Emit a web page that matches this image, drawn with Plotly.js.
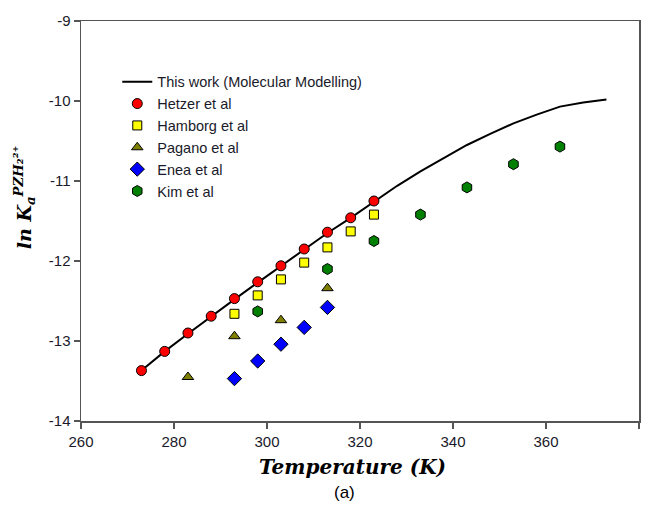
<!DOCTYPE html>
<html>
<head>
<meta charset="utf-8">
<script src="https://cdn.plot.ly/plotly-3.0.1.min.js"></script>
<style>html,body{margin:0;padding:0;background:#fff;}#chart{width:651px;height:510px;}</style>
</head>
<body>
<div id="chart"></div>
<script>
// Data
const modelT = [273, 278, 283, 288, 293, 298, 303, 308, 313, 318, 323, 328, 333, 338, 343, 348, 353, 358, 363, 368, 373];
const modelLnKa = [-13.37, -13.13, -12.91, -12.69, -12.48, -12.27, -12.06, -11.86, -11.65, -11.46, -11.26, -11.06, -10.88, -10.71, -10.55, -10.41, -10.28, -10.17, -10.07, -10.02, -9.98];

const hetzerT = [273, 278, 283, 288, 293, 298, 303, 308, 313, 318, 323];
const hetzerLnKa = [-13.37, -13.13, -12.90, -12.69, -12.47, -12.26, -12.06, -11.85, -11.64, -11.46, -11.25];

const hamborgT = [293, 298, 303, 308, 313, 318, 323];
const hamborgLnKa = [-12.66, -12.43, -12.23, -12.02, -11.83, -11.63, -11.42];

const paganoT = [283, 293, 303, 313];
const paganoLnKa = [-13.45, -12.94, -12.74, -12.34];

const eneaT = [293, 298, 303, 308, 313];
const eneaLnKa = [-13.47, -13.25, -13.04, -12.83, -12.58];

const kimT = [298, 313, 323, 333, 343, 353, 363];
const kimLnKa = [-12.63, -12.10, -11.75, -11.42, -11.08, -10.79, -10.57];

const xTicks = [260, 280, 300, 320, 340, 360, 380];
const yTicks = [-14, -13, -12, -11, -10, -9];

const seriesNames = ["This work (Molecular Modelling)", "Hetzer et al", "Hamborg et al", "Pagano et al", "Enea et al", "Kim et al"];

const mk = (symbol, color, size) => ({symbol: symbol, color: color, size: size, line: {color: '#000', width: 1}});

const traces = [
  {x: modelT, y: modelLnKa, name: seriesNames[0], mode: 'lines', line: {color: '#000', width: 2}},
  {x: hetzerT, y: hetzerLnKa, name: seriesNames[1], mode: 'markers', marker: mk('circle', '#ff0000', 10)},
  {x: hamborgT, y: hamborgLnKa, name: seriesNames[2], mode: 'markers', marker: mk('square', '#ffff00', 9)},
  {x: paganoT, y: paganoLnKa, name: seriesNames[3], mode: 'markers', marker: mk('triangle-up', '#808000', 10)},
  {x: eneaT, y: eneaLnKa, name: seriesNames[4], mode: 'markers', marker: mk('diamond', '#0000ff', 11)},
  {x: kimT, y: kimLnKa, name: seriesNames[5], mode: 'markers', marker: mk('hexagon', '#008000', 11)}
];

const axisCommon = {
  showgrid: false, zeroline: false, showline: true, mirror: true,
  linecolor: '#555', linewidth: 1.5,
  ticks: 'outside', ticklen: 6, tickwidth: 1.2, tickcolor: '#555',
  tickfont: {family: 'Liberation Sans, Arial, sans-serif', size: 15, color: '#1a1a2a'}
};

const layout = {
  width: 651, height: 510,
  margin: {l: 81, r: 12, t: 21, b: 89},
  paper_bgcolor: '#fff', plot_bgcolor: '#fff',
  showlegend: true,
  legend: {
    x: 0.065, y: 0.888, xanchor: 'left', yanchor: 'top',
    bgcolor: 'rgba(0,0,0,0)', borderwidth: 0,
    font: {family: 'Liberation Sans, Arial, sans-serif', size: 14.5, color: '#1a1a2a'},
    itemwidth: 30, tracegroupgap: 0
  },
  xaxis: Object.assign({}, axisCommon, {range: [260, 380], tickvals: xTicks, ticktext: xTicks.map(String)}),
  yaxis: Object.assign({}, axisCommon, {range: [-14, -9], tickvals: yTicks, ticktext: yTicks.map(v => '-' + Math.abs(v))}),
  annotations: [
    {text: '<b><i>Temperature (K)</i></b>', xref: 'paper', yref: 'paper', x: 0.487, y: -0.115, xanchor: 'center', yanchor: 'middle', showarrow: false,
     font: {family: 'DejaVu Serif, serif', size: 20, color: '#000'}},
    {text: '(a)', xref: 'paper', yref: 'paper', x: 0.473, y: -0.178, xanchor: 'center', yanchor: 'middle', showarrow: false,
     font: {family: 'Liberation Sans, Arial, sans-serif', size: 17, color: '#000'}},
    {text: '<b><i>ln K<sub>a</sub><sup>PZH₂²⁺</sup></i></b>', xref: 'paper', yref: 'paper', x: -0.1, y: 0.56, xanchor: 'center', yanchor: 'middle', textangle: -90, showarrow: false,
     font: {family: 'DejaVu Serif, serif', size: 19, color: '#000'}}
  ]
};

Plotly.newPlot('chart', traces, layout, {displayModeBar: false, staticPlot: true});
</script>
</body>
</html>
